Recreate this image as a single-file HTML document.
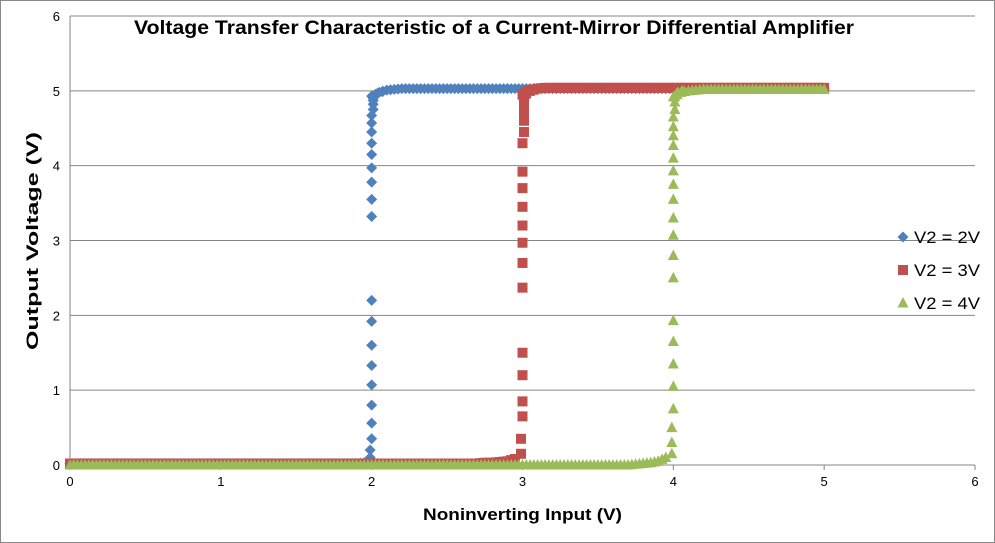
<!DOCTYPE html>
<html><head><meta charset="utf-8"><style>
body{margin:0;background:#fff;}
svg{display:block;font-family:"Liberation Sans",sans-serif;}
</style></head><body>
<svg id="chart" width="995" height="543">
<rect x="0.5" y="0.5" width="994" height="542" fill="#fff" stroke="#888"/>
<g id="grid"></g><g id="axes"></g><g id="marks"></g>
<text x="134" y="34" font-size="19" font-weight="bold" textLength="720" lengthAdjust="spacingAndGlyphs">Voltage Transfer Characteristic of a Current-Mirror Differential Amplifier</text>
<text x="423" y="520" font-size="17" font-weight="bold" textLength="199" lengthAdjust="spacingAndGlyphs">Noninverting  Input (V)</text>
<text transform="translate(38,350) rotate(-90)" font-size="17" font-weight="bold" textLength="218" lengthAdjust="spacingAndGlyphs">Output  Voltage  (V)</text>
<g id="legend"></g>
</svg>
<script>
const xTicks=[0,1,2,3,4,5,6];
const yTicks=[0,1,2,3,4,5,6];
const seriesNames=["V2 = 2V","V2 = 3V","V2 = 4V"];
const sweepX=[0,0.05,0.1,0.15,0.2,0.25,0.3,0.35,0.4,0.45,0.5,0.55,0.6,0.65,0.7,0.75,0.8,0.85,0.9,0.95,1,1.05,1.1,1.15,1.2,1.25,1.3,1.35,1.4,1.45,1.5,1.55,1.6,1.65,1.7,1.75,1.8,1.85,1.9,1.95,2,2.05,2.1,2.15,2.2,2.25,2.3,2.35,2.4,2.45,2.5,2.55,2.6,2.65,2.7,2.75,2.8,2.85,2.9,2.95,3,3.05,3.1,3.15,3.2,3.25,3.3,3.35,3.4,3.45,3.5,3.55,3.6,3.65,3.7,3.75,3.8,3.85,3.9,3.95,4,4.05,4.1,4.15,4.2,4.25,4.3,4.35,4.4,4.45,4.5,4.55,4.6,4.65,4.7,4.75,4.8,4.85,4.9,4.95,5];
const blueY=[0.02,0.02,0.02,0.02,0.02,0.02,0.02,0.02,0.02,0.02,0.02,0.02,0.02,0.02,0.02,0.02,0.02,0.02,0.02,0.02,0.02,0.02,0.02,0.02,0.02,0.02,0.02,0.02,0.02,0.02,0.02,0.02,0.02,0.02,0.02,0.02,0.02,0.02,0.02,0.03,4.93,4.98,5.01,5.02,5.03,5.03,5.03,5.03,5.03,5.03,5.03,5.03,5.03,5.03,5.03,5.03,5.03,5.03,5.03,5.03,5.03,5.03,5.03,5.03,5.03,5.03,5.03,5.03,5.03,5.03,5.03,5.03,5.03,5.03,5.03,5.03,5.03,5.03,5.03,5.03,5.03,5.03,5.03,5.03,5.03,5.03,5.03,5.03,5.03,5.03,5.03,5.03,5.03,5.03,5.03,5.03,5.03,5.03,5.03,5.03,5.03];
const redY=[0.02,0.02,0.02,0.02,0.02,0.02,0.02,0.02,0.02,0.02,0.02,0.02,0.02,0.02,0.02,0.02,0.02,0.02,0.02,0.02,0.02,0.02,0.02,0.02,0.02,0.02,0.02,0.02,0.02,0.02,0.02,0.02,0.02,0.02,0.02,0.02,0.02,0.02,0.02,0.02,0.02,0.02,0.02,0.02,0.02,0.02,0.02,0.02,0.02,0.02,0.02,0.02,0.02,0.02,0.02,0.03,0.03,0.04,0.05,0.08,4.95,5.0,5.03,5.04,5.04,5.04,5.04,5.04,5.04,5.04,5.04,5.04,5.04,5.04,5.04,5.04,5.04,5.04,5.04,5.04,5.04,5.04,5.04,5.04,5.04,5.04,5.04,5.04,5.04,5.04,5.04,5.04,5.04,5.04,5.04,5.04,5.04,5.04,5.04,5.04,5.04];
const greenY=[0,0,0,0,0,0,0,0,0,0,0,0,0,0,0,0,0,0,0,0,0,0,0,0,0,0,0,0,0,0,0,0,0,0,0,0,0,0,0,0,0,0,0,0,0,0,0,0,0,0,0,0,0,0,0,0,0,0,0,0,0,0,0,0,0,0,0,0,0,0,0,0,0,0,0,0.01,0.02,0.03,0.05,0.1,4.92,4.98,5.0,5.01,5.02,5.02,5.02,5.02,5.02,5.02,5.02,5.02,5.02,5.02,5.02,5.02,5.02,5.02,5.02,5.02,5.02];
const blueTransX=[1.99,1.99,2.0,2.0,2.0,2.0,2.0,2.0,2.0,2.0,2.0,2.0,2.0,2.0,2.0,2.0,2.0,2.0,2.0,2.01,2.01,2.01,2.01,2.02,2.04,2.07];
const blueTransY=[0.1,0.2,0.35,0.56,0.8,1.07,1.33,1.6,1.92,2.2,3.32,3.55,3.78,3.97,4.15,4.3,4.45,4.57,4.67,4.75,4.82,4.87,4.9,4.94,4.97,4.99];
const redTransX=[2.99,2.99,3.0,3.0,3.0,3.0,3.0,3.0,3.0,3.0,3.0,3.0,3.0,3.0,3.01,3.01,3.01,3.01,3.01,3.02,3.04,3.07];
const redTransY=[0.15,0.35,0.65,0.85,1.2,1.5,2.37,2.7,2.97,3.2,3.45,3.7,3.92,4.3,4.45,4.6,4.72,4.83,4.9,4.96,5.0,5.02];
const greenTransX=[3.99,3.99,3.99,4.0,4.0,4.0,4.0,4.0,4.0,4.0,4.0,4.0,4.0,4.0,4.0,4.0,4.0,4.0,4.0,4.0,4.01,4.01,4.01,4.02,4.03,4.06];
const greenTransY=[0.15,0.3,0.5,0.75,1.05,1.35,1.65,1.93,2.5,2.8,3.07,3.3,3.55,3.75,3.93,4.1,4.27,4.4,4.52,4.65,4.75,4.85,4.92,4.96,4.98,5.0];

const X0=70,X1=975,Y0=465,Y1=16;
const sx=v=>X0+(X1-X0)*v/6, sy=v=>Y0-(Y0-Y1)*v/6;
const NS="http://www.w3.org/2000/svg";
function mk(t,a,p){const e=document.createElementNS(NS,t);for(const k in a)e.setAttribute(k,a[k]);p.appendChild(e);return e;}
const grid=document.getElementById('grid'),axes=document.getElementById('axes'),marks=document.getElementById('marks');
yTicks.forEach(v=>{
 if(v>0){const l=mk('line',{x1:X0,x2:X1,y1:sy(v),y2:sy(v),stroke:'#868686','stroke-width':1},grid);
 
 }
 const t=mk('text',{x:X0-10,y:sy(v)+5,'text-anchor':'end','font-size':13},axes);t.textContent=v;
 
 
});
xTicks.forEach(v=>{
 const t=mk('text',{x:sx(v),y:Y0+21,'text-anchor':'middle','font-size':13},axes);t.textContent=v;
 
 
 const k=mk('line',{x1:sx(v),x2:sx(v),y1:Y0,y2:Y0+5,stroke:'#868686'},axes);
 
 
});
const ax=mk('line',{x1:X0,x2:X1,y1:Y0,y2:Y0,stroke:'#868686'},axes);


const ay=mk('line',{x1:X0,x2:X0,y1:Y1,y2:Y0,stroke:'#868686'},axes);



const colors=['#4F81BD','#C0504D','#9BBB59'];
function marker(kind,x,y,p){
 let e;
 if(kind===0)e=mk('polygon',{points:`${x},${y-5.5} ${x+5.5},${y} ${x},${y+5.5} ${x-5.5},${y}`,fill:colors[0]},p);
 else if(kind===1)e=mk('rect',{x:x-5,y:y-5,width:10,height:10,fill:colors[1]},p);
 else e=mk('polygon',{points:`${x},${y-6} ${x+5.5},${y+4.5} ${x-5.5},${y+4.5}`,fill:colors[2]},p);
 return e;
}
const sets=[[blueY,blueTransX,blueTransY],[redY,redTransX,redTransY],[greenY,greenTransX,greenTransY]];
sets.forEach((s,i)=>{
 const g=mk('g',{},marks);
 
 
 sweepX.forEach((x,j)=>{
  const m=marker(i,sx(x),sy(s[0][j]),g);
  
  
 });
 for(let j=0;j<sweepX.length-1;j++){
  if(Math.abs(s[0][j]-s[0][j+1])<0.5){
   const m=marker(i,sx((sweepX[j]+sweepX[j+1])/2),sy((s[0][j]+s[0][j+1])/2),g);
   
   
  }
 }
 s[1].forEach((x,j)=>{
  const m=marker(i,sx(x),sy(s[2][j]),g);
  
  
 });
});
const leg=document.getElementById('legend');
seriesNames.forEach((n,i)=>{
 const y=237+i*33;
 const m=marker(i,903,y,leg);
 
 
 const t=mk('text',{x:914,y:y+6,'font-size':17,textLength:66,lengthAdjust:'spacingAndGlyphs'},leg);t.textContent=n;
 
 
});
</script>
</body></html>
